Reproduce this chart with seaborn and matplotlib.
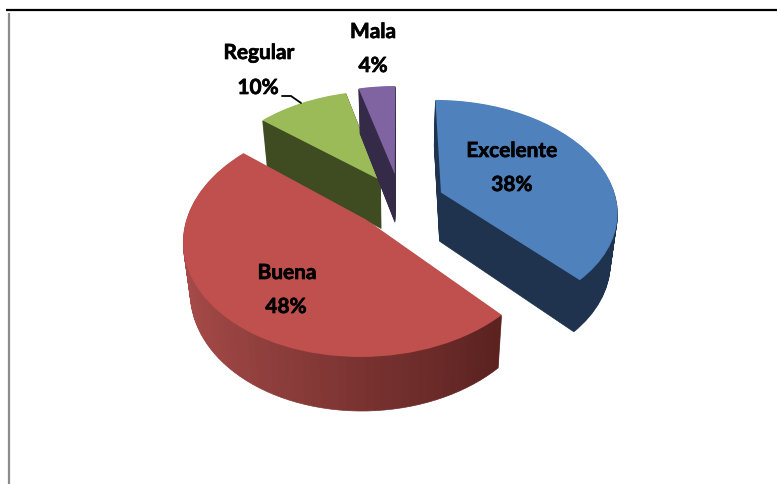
import numpy as np
import matplotlib
matplotlib.use('Agg')
import matplotlib.pyplot as plt
import matplotlib.patheffects as pe
from matplotlib.transforms import Transform
import seaborn as sns

categories = ['Excelente', 'Buena', 'Regular', 'Mala']
values = [38, 48, 10, 4]
top_colors = ['#4f81bd', '#c0504d', '#9bbb59', '#8064a2']
side_colors = ['#1f334f', None, '#3f4c21', '#352a48']
explode_x = [0.242, -0.18, -0.108, -0.025]
explode_y = [0.096, -0.15, 0.213, 0.273]
draw_order = [2, 3, 0, 1]

# fake 3d camera: screen centre, radius, tilt, perspective, extrusion
CX, CY, R, S, P, DEPTH = 399, 203, 176, 0.625, 0.155, 49


class Camera(Transform):
    input_dims = output_dims = 2

    def __init__(self, drop=0):
        super().__init__()
        self.drop = drop

    def transform_non_affine(self, pts):
        pts = np.asarray(pts, dtype=float)
        w = 1 + P * pts[:, 1]
        shrink = 1 + 0.0007 * self.drop
        return np.column_stack([CX + R * pts[:, 0] / (w * shrink),
                                CY - R * S * pts[:, 1] / w + self.drop / np.sqrt(w)])


sns.set_theme(style='white')
plt.rcParams['font.family'] = ['Lato', 'DejaVu Sans']

fig, ax = plt.subplots(figsize=(7.77, 4.84), dpi=100)
fig.subplots_adjust(left=0, right=1, top=1, bottom=0)
red_ramp = sns.blend_palette(['#a84c4a', '#4b1a18'], 120)

starts = 90 - np.cumsum([0] + values[:-1]) * 3.6
for i in draw_order:
    frac = values[i] / 100
    center = (explode_x[i], explode_y[i])
    n = 70 if side_colors[i] is None else 1
    if n > 1:
        mids = np.radians(starts[i] - (np.arange(n) + 0.5) * values[i] * 3.6 / n)
        shade = [red_ramp[int((np.cos(m) + 1) / 2 * 119)] for m in mids]
    else:
        shade = [side_colors[i]]
    for d in range(DEPTH, 0, -1):
        wedges, _ = ax.pie([frac / n] * n, startangle=starts[i], counterclock=False, normalize=False,
                           center=center, colors=shade, wedgeprops={'linewidth': 0.5})
        for w in wedges:
            w.set_edgecolor(w.get_facecolor())
            w.set_transform(Camera(d) + ax.transData)
    wedges, _ = ax.pie([frac], startangle=starts[i], counterclock=False, normalize=False,
                       center=center, colors=[top_colors[i]], wedgeprops={'linewidth': 0})
    wedges[0].set_transform(Camera(0) + ax.transData)

ax.set_aspect('auto')
ax.set_xlim(0, 777)
ax.set_ylim(484, 0)
ax.set_axis_on()
ax.set_frame_on(False)
ax.set_xticks([])
ax.set_yticks([])

# frame lines of the pasted picture
ax.plot([6, 777], [10, 10], color='black', lw=1.6, solid_capstyle='butt')
ax.plot([9, 9], [13, 484], color='#8c8c8c', lw=1.6, solid_capstyle='butt')

label_xy = {'Excelente': (512, 151, 512, 185), 'Buena': (287, 273, 286, 307),
            'Regular': (259, 53, 258, 88), 'Mala': (373, 32, 373, 66)}
thick = [pe.withStroke(linewidth=0.5, foreground='black')]
for name, val in zip(categories, values):
    x1, y1, x2, y2 = label_xy[name]
    ax.text(x1, y1, name, ha='center', va='center', fontsize=15, fontweight='bold', color='black', path_effects=thick)
    ax.text(x2, y2, f'{val}%', ha='center', va='center', fontsize=15, fontweight='bold', color='black', path_effects=thick)

# leader line of the Regular label
ax.plot([282, 291, 301], [96, 96, 103], color='black', lw=1.3)

fig.savefig('out.png', dpi=100)
